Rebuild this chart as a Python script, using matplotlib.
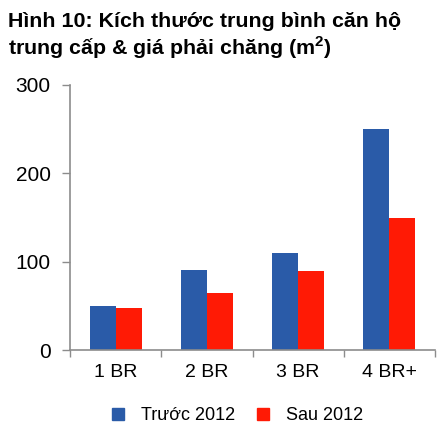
import matplotlib
matplotlib.use("Agg")
import matplotlib.pyplot as plt
from matplotlib.lines import Line2D
import numpy as np

plt.rcParams['font.family'] = ['Liberation Sans', 'DejaVu Sans']
plt.rcParams['mathtext.fontset'] = 'custom'
plt.rcParams['mathtext.rm'] = 'Liberation Sans'
plt.rcParams['mathtext.bf'] = 'Liberation Sans:bold'

categories = ["1 BR", "2 BR", "3 BR", "4 BR+"]
truoc_2012 = [50, 91, 110, 250]
sau_2012 = [48, 65, 90, 150]
series_names = ["Trước 2012", "Sau 2012"]
yticks = [0, 100, 200, 300]

blue = "#2A5BA8"
red = "#FF1A05"
spine_c = "#8C8C8C"

W, H = 442, 432
fig = plt.figure(figsize=(W/100, H/100), dpi=100)
ax = fig.add_axes([70/W, 1-350/H, 365/W, 265/H])

x = np.arange(len(categories))
bw = 0.285
ax.bar(x - bw/2, truoc_2012, width=bw, color=blue, linewidth=0)
ax.bar(x + bw/2, sau_2012, width=bw, color=red, linewidth=0)

ax.set_xlim(-0.5, len(categories) - 0.5)
ax.set_ylim(0, 300)
ax.set_yticks(yticks)
ax.set_yticklabels([str(v) for v in yticks], fontsize=15)
ax.tick_params(axis='y', direction='out', length=6, width=1, color=spine_c, pad=8)

# category labels between boundary ticks
ax.set_xticks(np.arange(len(categories) + 1) - 0.5)
ax.set_xticklabels([])
ax.tick_params(axis='x', direction='out', length=5, width=1, color=spine_c)
ax.set_xticks(x, minor=True)
ax.set_xticklabels(categories, minor=True, fontsize=14)
ax.tick_params(axis='x', which='minor', length=0, pad=10)

for s in ['top', 'right']:
    ax.spines[s].set_visible(False)
for s in ['left', 'bottom']:
    ax.spines[s].set_color(spine_c)
    ax.spines[s].set_linewidth(1.2)

fig.text(8/W, 1-27/H, "Hình 10: Kích thước trung bình căn hộ", fontsize=15.4,
         fontweight='bold', ha='left', va='baseline')
fig.text(8/W, 1-55/H, "trung cấp & giá phải chăng (m$^{\\mathbf{2}}$)", fontsize=15.4,
         fontweight='bold', ha='left', va='baseline')

handles = [Line2D([], [], marker='s', linestyle='', markersize=8, color=blue),
           Line2D([], [], marker='s', linestyle='', markersize=8, color=red)]
fig.legend(handles, series_names, loc='center', bbox_to_anchor=(236/W, 1-416/H),
           ncol=2, frameon=False, fontsize=13, handletextpad=0.8,
           columnspacing=1.0, handlelength=1.0)

fig.savefig("out.png", dpi=100)
